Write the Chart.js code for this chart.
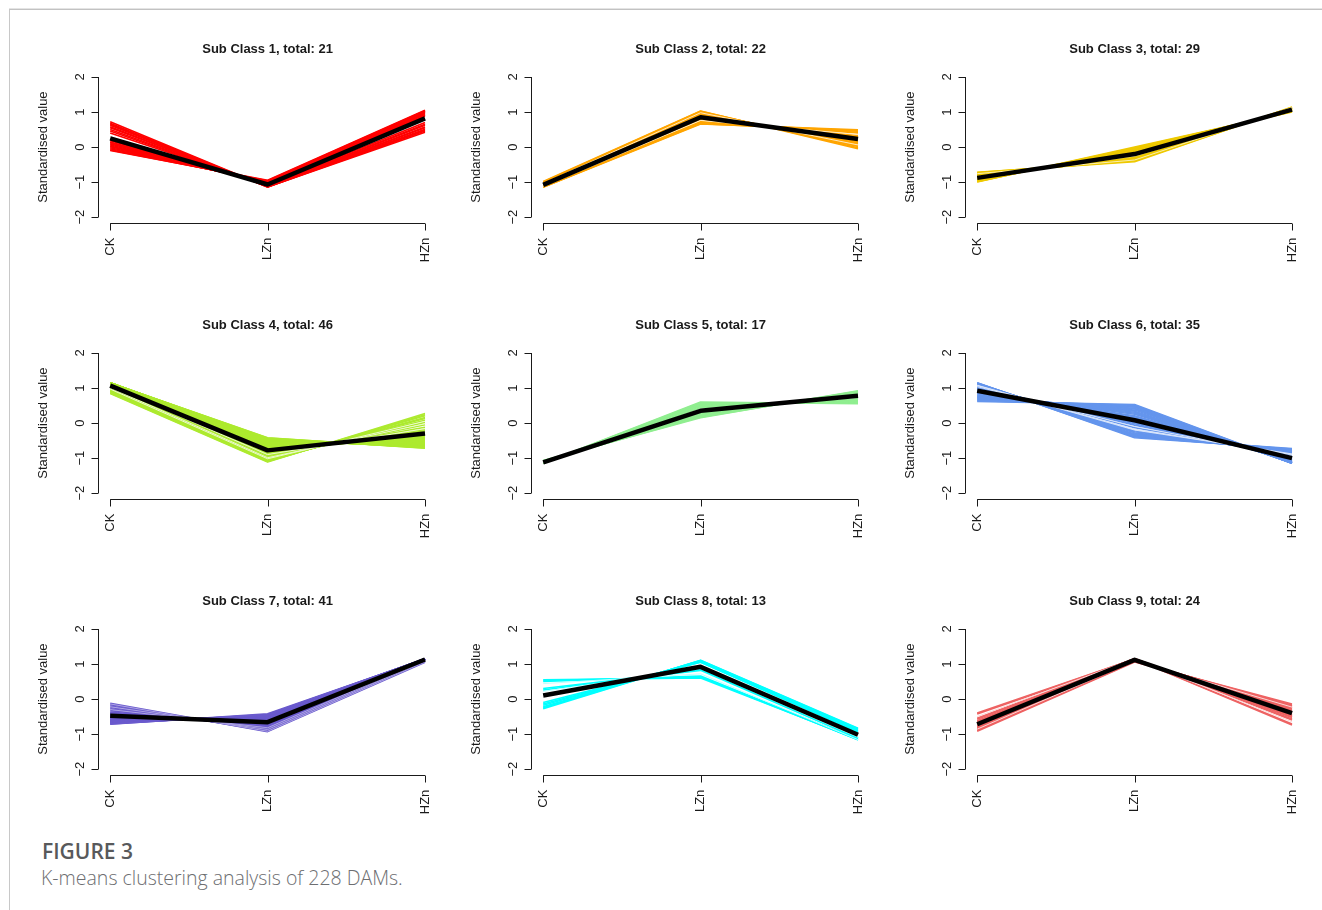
<!DOCTYPE html>
<html>
<head>
<meta charset="utf-8">
<script src="https://cdn.jsdelivr.net/npm/chart.js@4.4.1/dist/chart.umd.min.js"></script>
<style>
html,body{margin:0;padding:0;background:#fff;}
body{width:1322px;height:910px;position:relative;overflow:hidden;}
#frame{position:absolute;left:9px;top:9px;width:1313px;height:901px;border-top:1px solid #c2c2c2;border-left:1px solid #c8c8c8;box-shadow:0 -1px 0 #e4e4e4;}
canvas{position:absolute;}
#cap1{position:absolute;left:42px;top:841px;font-family:"Open Sans",sans-serif;font-weight:600;font-size:21px;line-height:21px;color:#58595b;white-space:nowrap;}
#cap2{position:absolute;left:41px;top:868px;font-family:"Open Sans",sans-serif;font-weight:300;font-size:19.5px;line-height:19.5px;color:#6d6e71;white-space:nowrap;}
</style>
</head>
<body>
<div id="frame"></div>
<div id="cap1">FIGURE 3</div>
<div id="cap2">K-means clustering analysis of 228 DAMs.</div>
<script>
// ---------- data ----------
const categories = ['CK', 'LZn', 'HZn'];
const yTicks = [-2, -1, 0, 1, 2];
const yTickLabels = ['\u22122', '\u22121', '0', '1', '2'];
const yAxisTitle = 'Standardised value';
const totals = [21, 22, 29, 46, 17, 35, 41, 13, 24];
const colors = ['#ff0000', '#ffa500', '#eec900', '#adea2f', '#90ee90', '#6495ed', '#6a5acd', '#00ffff', '#ee6363'];

// cluster centres (black lines)
const centers = [
  [0.25, -1.07, 0.82],
  [-1.08, 0.85, 0.23],
  [-0.88, -0.20, 1.07],
  [1.07, -0.78, -0.30],
  [-1.12, 0.35, 0.78],
  [0.92, 0.08, -1.00],
  [-0.48, -0.66, 1.13],
  [0.10, 0.92, -1.02],
  [-0.72, 1.12, -0.40]
];

// member profiles (CK, LZn, HZn)
const c1Lines = [[0.72,-1.14,0.42],[0.68,-1.14,0.46],[0.65,-1.14,0.49],[0.62,-1.13,0.51],[0.58,-1.13,0.55],[0.55,-1.12,0.57],[0.50,-1.12,0.62],[0.46,-1.11,0.65],[0.40,-1.10,0.70],[0.18,-1.06,0.88],[0.14,-1.05,0.91],[0.12,-1.04,0.92],[0.09,-1.04,0.95],[0.06,-1.03,0.97],[0.03,-1.02,0.99],[0.01,-1.01,1.00],[-0.02,-1.00,1.02],[-0.05,-0.98,1.03],[-0.08,-0.96,1.04],[-0.10,-0.95,1.05]];
const c1Pale = [[0.30,-1.09,0.79]];

const c2Lines = [[-0.98,1.03,-0.05],[-1.00,1.02,-0.02],[-1.02,1.00,0.02],[-1.03,0.99,0.04],[-1.05,0.96,0.09],[-1.06,0.94,0.12],[-1.07,0.92,0.15],[-1.08,0.90,0.18],[-1.09,0.88,0.21],[-1.09,0.86,0.23],[-1.10,0.85,0.25],[-1.11,0.83,0.28],[-1.11,0.81,0.30],[-1.12,0.79,0.33],[-1.13,0.73,0.40],[-1.13,0.71,0.42],[-1.14,0.69,0.45],[-1.14,0.67,0.47],[-1.15,0.66,0.49],[-1.10,0.84,0.26]];
const c2Pale = [[-1.12,0.76,0.36],[-1.04,0.98,0.06]];

const c3Lines = [[-1.00,0.00,1.00],[-0.99,-0.02,1.01],[-0.98,-0.04,1.02],[-0.96,-0.07,1.03],[-0.95,-0.09,1.04],[-0.94,-0.11,1.05],[-0.93,-0.12,1.05],[-0.92,-0.14,1.06],[-0.91,-0.15,1.06],[-0.90,-0.17,1.07],[-0.89,-0.18,1.07],[-0.88,-0.20,1.08],[-0.87,-0.21,1.08],[-0.86,-0.23,1.09],[-0.85,-0.24,1.09],[-0.83,-0.27,1.10],[-0.82,-0.28,1.10],[-0.81,-0.30,1.11],[-0.80,-0.31,1.11],[-0.79,-0.32,1.11],[-0.78,-0.34,1.12],[-0.77,-0.35,1.12],[-0.75,-0.38,1.13],[-0.74,-0.39,1.13],[-0.73,-0.40,1.13],[-0.72,-0.42,1.14],[-0.97,-0.05,1.02]];
const c3Pale = [[-0.76,-0.37,1.13],[-0.84,-0.26,1.10]];

const c4Lines = [[0.84,-1.11,0.27],[0.86,-1.10,0.24],[0.88,-1.09,0.21],[0.91,-1.07,0.16],[0.93,-1.06,0.13],[0.96,-1.04,0.08],[0.99,-1.01,0.02],[1.02,-0.97,-0.05],[1.05,-0.93,-0.12],[1.07,-0.89,-0.18],[1.08,-0.86,-0.22],[1.10,-0.84,-0.26],[1.11,-0.82,-0.29],[1.12,-0.81,-0.31],[1.12,-0.80,-0.32],[1.13,-0.78,-0.35],[1.13,-0.76,-0.37],[1.14,-0.75,-0.39],[1.14,-0.73,-0.41],[1.14,-0.71,-0.43],[1.15,-0.70,-0.45],[1.15,-0.68,-0.47],[1.15,-0.66,-0.49],[1.15,-0.64,-0.51],[1.15,-0.63,-0.52],[1.15,-0.61,-0.54],[1.15,-0.60,-0.55],[1.15,-0.58,-0.57],[1.15,-0.57,-0.58],[1.15,-0.55,-0.60],[1.15,-0.54,-0.61],[1.15,-0.53,-0.62],[1.15,-0.52,-0.63],[1.15,-0.51,-0.64],[1.15,-0.50,-0.65],[1.15,-0.49,-0.66],[1.15,-0.48,-0.67],[1.15,-0.47,-0.68],[1.15,-0.46,-0.69],[1.15,-0.45,-0.70],[1.14,-0.44,-0.70],[1.14,-0.43,-0.71],[1.14,-0.42,-0.72]];
const c4Pale = [[0.97,-1.02,0.05],[1.01,-0.99,-0.02],[1.06,-0.90,-0.16]];

const c5Lines = [[-1.15,0.60,0.55],[-1.15,0.58,0.57],[-1.15,0.56,0.59],[-1.14,0.54,0.60],[-1.14,0.52,0.62],[-1.14,0.50,0.64],[-1.13,0.47,0.66],[-1.13,0.44,0.69],[-1.07,0.15,0.92],[-1.08,0.17,0.91],[-1.08,0.19,0.89],[-1.09,0.21,0.88],[-1.10,0.23,0.87],[-1.10,0.26,0.84],[-1.11,0.28,0.83],[-1.11,0.31,0.80]];
const c5Pale = [[-1.12,0.38,0.74]];

const c6Lines = [[0.62,0.53,-1.15],[0.64,0.51,-1.15],[0.66,0.49,-1.15],[0.68,0.47,-1.15],[0.70,0.45,-1.15],[0.72,0.42,-1.14],[0.74,0.40,-1.14],[0.76,0.37,-1.13],[0.78,0.34,-1.12],[0.80,0.31,-1.11],[0.83,0.28,-1.11],[0.85,0.25,-1.10],[0.87,0.21,-1.08],[0.89,0.18,-1.07],[0.91,0.15,-1.06],[0.93,0.12,-1.05],[0.95,0.08,-1.03],[0.97,0.05,-1.02],[0.99,0.01,-1.00],[1.01,-0.02,-0.99],[1.03,-0.06,-0.97],[1.06,-0.13,-0.93],[1.09,-0.22,-0.87],[1.10,-0.25,-0.85],[1.11,-0.28,-0.83],[1.12,-0.31,-0.81],[1.12,-0.33,-0.79],[1.13,-0.35,-0.78],[1.13,-0.37,-0.76],[1.14,-0.38,-0.76],[1.14,-0.40,-0.74],[1.15,-0.42,-0.73]];
const c6Pale = [[1.04,-0.10,-0.94],[1.07,-0.17,-0.90],[1.08,-0.20,-0.88]];

const c7Lines = [[-0.72,-0.42,1.14],[-0.71,-0.44,1.15],[-0.70,-0.45,1.15],[-0.69,-0.46,1.15],[-0.68,-0.47,1.15],[-0.67,-0.48,1.15],[-0.66,-0.49,1.15],[-0.65,-0.50,1.15],[-0.64,-0.51,1.15],[-0.63,-0.52,1.15],[-0.62,-0.53,1.15],[-0.61,-0.54,1.15],[-0.60,-0.55,1.15],[-0.59,-0.56,1.15],[-0.58,-0.57,1.15],[-0.57,-0.58,1.15],[-0.56,-0.59,1.15],[-0.55,-0.60,1.15],[-0.54,-0.61,1.15],[-0.53,-0.62,1.15],[-0.52,-0.63,1.15],[-0.51,-0.64,1.15],[-0.50,-0.65,1.15],[-0.49,-0.66,1.15],[-0.48,-0.67,1.15],[-0.47,-0.68,1.15],[-0.46,-0.69,1.15],[-0.45,-0.70,1.15],[-0.43,-0.71,1.14],[-0.41,-0.73,1.14],[-0.39,-0.75,1.14],[-0.37,-0.76,1.13],[-0.33,-0.79,1.12],[-0.28,-0.83,1.11],[-0.24,-0.86,1.10],[-0.20,-0.88,1.08],[-0.16,-0.91,1.07],[-0.12,-0.93,1.05]];
const c7Pale = [[-0.30,-0.82,1.12],[-0.22,-0.87,1.09],[-0.14,-0.92,1.06]];

const c8Lines = [[0.55,0.60,-1.15],[0.53,0.63,-1.16],[0.50,0.66,-1.16],[0.30,0.82,-1.12],[0.26,0.85,-1.11],[-0.10,1.05,-0.95],[-0.14,1.06,-0.92],[-0.18,1.08,-0.90],[-0.22,1.09,-0.87],[-0.25,1.10,-0.85],[-0.28,1.11,-0.83]];
const c8Pale = [[0.44,0.72,-1.16],[0.22,0.87,-1.09]];

const c9Lines = [[-0.40,1.14,-0.74],[-0.43,1.14,-0.71],[-0.55,1.15,-0.60],[-0.58,1.15,-0.57],[-0.62,1.15,-0.53],[-0.64,1.15,-0.51],[-0.66,1.15,-0.49],[-0.68,1.15,-0.47],[-0.70,1.15,-0.45],[-0.72,1.14,-0.42],[-0.74,1.14,-0.40],[-0.76,1.13,-0.37],[-0.78,1.13,-0.35],[-0.80,1.12,-0.32],[-0.82,1.11,-0.29],[-0.84,1.10,-0.26],[-0.85,1.10,-0.25],[-0.87,1.09,-0.22],[-0.88,1.08,-0.20],[-0.89,1.08,-0.19],[-0.90,1.07,-0.17],[-0.92,1.06,-0.14]];
const c9Pale = [[-0.50,1.15,-0.65],[-0.86,1.09,-0.23]];

const memberLines = [c1Lines, c2Lines, c3Lines, c4Lines, c5Lines, c6Lines, c7Lines, c8Lines, c9Lines];
const paleLines = [c1Pale, c2Pale, c3Pale, c4Pale, c5Pale, c6Pale, c7Pale, c8Pale, c9Pale];
const paleMix = [0.75, 0.75, 0.7, 0.75, 0.75, 0.75, 0.45, 0.75, 0.75];

// ---------- drawing ----------
const FONT = '"Liberation Sans", Arial, Helvetica, sans-serif';
const INK = '#1a1a1a';

function mixWhite(hex, f) {
  const n = parseInt(hex.slice(1), 16);
  const r = (n >> 16) & 255, g = (n >> 8) & 255, b = n & 255;
  const m = v => Math.round(v + (255 - v) * f);
  return 'rgb(' + m(r) + ',' + m(g) + ',' + m(b) + ')';
}
function toPts(row) { return row.map((v, i) => ({ x: i + 1, y: v })); }

const rAxes = {
  id: 'rAxes',
  afterDraw(chart) {
    const ctx = chart.ctx, xs = chart.scales.x, ys = chart.scales.y, ca = chart.chartArea;
    const idx = chart.options.plugins.rAxes.index;
    ctx.save();
    ctx.strokeStyle = INK; ctx.fillStyle = INK; ctx.lineWidth = 1;
    // y axis
    const ax = Math.round(ca.left) + 0.5;
    ctx.beginPath();
    ctx.moveTo(ax, ys.getPixelForValue(yTicks[0]));
    ctx.lineTo(ax, ys.getPixelForValue(yTicks[yTicks.length - 1]));
    yTicks.forEach(t => {
      const py = Math.round(ys.getPixelForValue(t)) + 0.5;
      ctx.moveTo(ax, py); ctx.lineTo(ax - 7, py);
    });
    // x axis
    const ay = Math.round(ca.bottom) + 0.5;
    ctx.moveTo(xs.getPixelForValue(1), ay);
    ctx.lineTo(xs.getPixelForValue(categories.length), ay);
    categories.forEach((c, i) => {
      const px = Math.round(xs.getPixelForValue(i + 1)) + 0.5;
      ctx.moveTo(px, ay); ctx.lineTo(px, ay + 7);
    });
    ctx.stroke();
    // y tick labels (rotated, parallel to axis)
    ctx.font = '13px ' + FONT;
    ctx.textAlign = 'center'; ctx.textBaseline = 'middle';
    yTicks.forEach((t, i) => {
      ctx.save();
      ctx.translate(ca.left - 17, ys.getPixelForValue(t));
      ctx.rotate(-Math.PI / 2);
      ctx.fillText(yTickLabels[i], 0, 0);
      ctx.restore();
    });
    // x tick labels (perpendicular)
    ctx.textAlign = 'right';
    categories.forEach((c, i) => {
      ctx.save();
      ctx.translate(xs.getPixelForValue(i + 1), ca.bottom + 15);
      ctx.rotate(-Math.PI / 2);
      ctx.fillText(c, 0, 0);
      ctx.restore();
    });
    // y axis title
    ctx.textAlign = 'center';
    ctx.save();
    ctx.translate(ca.left - 54, (ca.top + ca.bottom) / 2);
    ctx.rotate(-Math.PI / 2);
    ctx.fillText(yAxisTitle, 0, 0);
    ctx.restore();
    // main title
    ctx.font = 'bold 13px ' + FONT;
    ctx.textBaseline = 'alphabetic';
    ctx.fillText('Sub Class ' + (idx + 1) + ', total: ' + totals[idx], (ca.left + ca.right) / 2, ca.top - 18);
    ctx.restore();
  }
};

const PW = 433.3, PH = 276.2;
for (let k = 0; k < 9; k++) {
  const col = k % 3, row = Math.floor(k / 3);
  const cv = document.createElement('canvas');
  cv.width = 433; cv.height = 276;
  cv.style.left = Math.round(20 + col * PW) + 'px';
  cv.style.top = Math.round(20 + row * PH) + 'px';
  document.body.appendChild(cv);

  const datasets = [];
  datasets.push({ data: toPts(centers[k]), borderColor: '#000', borderWidth: 4.5, order: 0 });
  paleLines[k].forEach(r => datasets.push({ data: toPts(r), borderColor: mixWhite(colors[k], paleMix[k]), borderWidth: 1, order: 1 }));
  memberLines[k].forEach(r => datasets.push({ data: toPts(r), borderColor: colors[k], borderWidth: 1.6, order: 2 }));

  new Chart(cv, {
    type: 'line',
    data: { datasets },
    options: {
      responsive: false,
      animation: false,
      devicePixelRatio: 1,
      events: [],
      layout: { padding: { left: 77.6, right: 15.4, top: 51.4, bottom: 73.3 } },
      scales: {
        x: { type: 'linear', min: 0.92, max: 3.08, display: false },
        y: { type: 'linear', min: -2.16, max: 2.16, display: false }
      },
      elements: {
        point: { radius: 0 },
        line: { tension: 0, borderJoinStyle: 'round', borderCapStyle: 'butt', fill: false }
      },
      plugins: { legend: { display: false }, tooltip: { enabled: false }, title: { display: false }, rAxes: { index: k } }
    },
    plugins: [rAxes]
  });
}
</script>
</body>
</html>
